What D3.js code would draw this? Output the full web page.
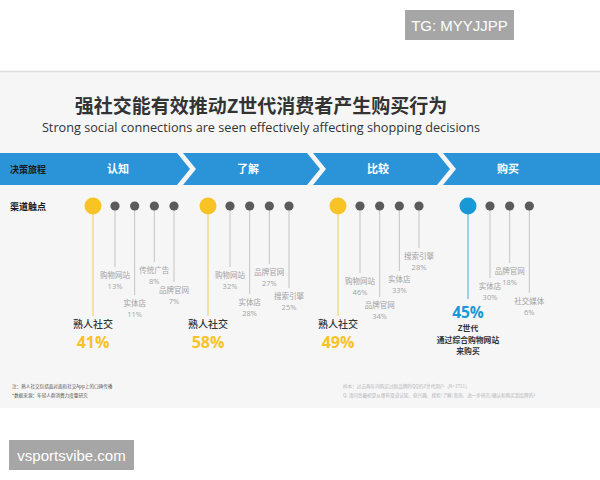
<!DOCTYPE html>
<html><head><meta charset="utf-8">
<script src="https://cdn.jsdelivr.net/npm/d3@7"></script>
<style>
html,body{margin:0;padding:0;background:#fff;}
svg{display:block;}
</style></head>
<body>
<script>
// ---- data ----
const stages = ["认知", "了解", "比较", "购买"];
const leadLabels = ["熟人社交", "熟人社交", "熟人社交", "Z世代|通过综合购物网站|来购买"];
const leadValues = [41, 58, 49, 45];
const touchNames = [
  ["购物网站", "实体店", "传统广告", "品牌官网"],
  ["购物网站", "实体店", "品牌官网", "搜索引擎"],
  ["购物网站", "品牌官网", "实体店", "搜索引擎"],
  ["实体店", "品牌官网", "社交媒体"]
];
const touchValues = [
  [13, 11, 8, 7],
  [32, 28, 27, 25],
  [46, 34, 33, 28],
  [30, 18, 6]
];
const titleZh = "强社交能有效推动Z世代消费者产生购买行为";
const titleEn = "Strong social connections are seen effectively affecting shopping decisions";
const notesLeft = ["注：熟人社交包括面对面和社交App上的口碑传播", "*数据来源：年轻人群消费力度量研究"];
const notesRight = ["样本：过去两年内购买过新品牌的QQ的Z世代用户（N=1711）", "Q. 请问您最初是从哪些渠道认知、获兴趣、搜索/了解/咨询、进一步研究/确认和购买到品牌的?"];

// ---- layout (not data) ----
const labelRows = [
  [275, 303, 270, 290],
  [275, 302, 272, 296],
  [281, 305, 279, 256],
  [286, 271, 301]
];
const leadOffset = [40, 25, 25, 25];

const W = 600, H = 480;
const CJK = "'Noto Sans CJK SC','Noto Sans',sans-serif";
const svg = d3.select("body").append("svg").attr("width", W).attr("height", H);

// background panel
svg.append("rect").attr("x", 0).attr("y", 0).attr("width", W).attr("height", H).attr("fill", "#ffffff");
svg.append("rect").attr("x", 0).attr("y", 72).attr("width", W).attr("height", 336).attr("fill", "#f6f6f7");
svg.append("line").attr("x1", 0).attr("x2", W).attr("y1", 71.5).attr("y2", 71.5).attr("stroke", "#dedede").attr("stroke-width", 1.5);

// titles
svg.append("text").attr("x", 261).attr("y", 113).attr("text-anchor", "middle")
  .attr("font-family", CJK).attr("font-weight", 700).attr("font-size", 19).attr("fill", "#333")
  .text(titleZh);
svg.append("text").attr("x", 261).attr("y", 132).attr("text-anchor", "middle")
  .attr("font-family", "'Open Sans','Noto Sans',sans-serif").attr("font-size", 12.7).attr("fill", "#333")
  .text(titleEn);

// banner
const band = d3.scaleBand().domain(stages).range([53, 573]).padding(0);
const bTop = 153, bBot = 185, bMid = (bTop + bBot) / 2;
const gap = 6, depth = 13;
stages.forEach((s, i) => {
  const x0 = band(s), x1 = x0 + band.bandwidth();
  const left = i === 0 ? 0 : x0;
  const right = i === stages.length - 1 ? W : x1 - gap;
  const pts = [];
  pts.push([left, bTop]);
  pts.push([right, bTop]);
  if (i < stages.length - 1) pts.push([x1 - gap + depth, bMid]);
  pts.push([right, bBot]);
  pts.push([left, bBot]);
  if (i > 0) pts.push([x0 + depth, bMid]);
  svg.append("polygon").attr("points", pts.map(p => p.join(",")).join(" ")).attr("fill", "#2b94d8");
  svg.append("text").attr("x", x0 + band.bandwidth() / 2).attr("y", bMid + 4).attr("text-anchor", "middle")
    .attr("font-family", CJK).attr("font-weight", 700).attr("font-size", 11).attr("fill", "#fff").text(s);
});
svg.append("text").attr("x", 10).attr("y", bMid + 3.5).attr("font-family", CJK).attr("font-weight", 700)
  .attr("font-size", 9).attr("fill", "#1a1a1a").text("决策旅程");
svg.append("text").attr("x", 10).attr("y", 210).attr("font-family", CJK).attr("font-weight", 700)
  .attr("font-size", 9).attr("fill", "#1a1a1a").text("渠道触点");

// dots
const dotY = 206;
const yellow = "#f7c325", blue = "#1899d6";
stages.forEach((s, i) => {
  const ax = band(s) + leadOffset[i];
  const isBuy = i === stages.length - 1;
  const col = isBuy ? blue : yellow;
  const px = d3.scalePoint().domain(d3.range(4)).range([ax + 22, ax + 81]);
  // touchpoints
  touchNames[i].forEach((n, j) => {
    const x = px(j), ly = labelRows[i][j];
    svg.append("line").attr("x1", x).attr("x2", x).attr("y1", dotY).attr("y2", ly - 8)
      .attr("stroke", "#c4c4c4").attr("stroke-width", 1);
    svg.append("circle").attr("cx", x).attr("cy", dotY).attr("r", 4.6).attr("fill", "#5b5b5b");
    svg.append("text").attr("x", x).attr("y", ly + 2.5).attr("text-anchor", "middle")
      .attr("font-family", CJK).attr("font-size", 7.5).attr("fill", "#a3a3a3").text(n);
    svg.append("text").attr("x", x).attr("y", ly + 14).attr("text-anchor", "middle")
      .attr("font-family", "'Open Sans',sans-serif").attr("font-size", 7.5).attr("fill", "#a3a3a3")
      .text(touchValues[i][j] + "%");
  });
  // lead
  const lineEnd = isBuy ? 299 : 316;
  svg.append("line").attr("x1", ax).attr("x2", ax).attr("y1", dotY).attr("y2", lineEnd)
    .attr("stroke", col).attr("stroke-width", 1).attr("opacity", 0.8);
  svg.append("circle").attr("cx", ax).attr("cy", dotY).attr("r", 8.5).attr("fill", col);
  if (!isBuy) {
    svg.append("text").attr("x", ax).attr("y", 328).attr("text-anchor", "middle")
      .attr("font-family", CJK).attr("font-weight", 500).attr("font-size", 10).attr("fill", "#333").text(leadLabels[i]);
    svg.append("text").attr("x", ax).attr("y", 348).attr("text-anchor", "middle")
      .attr("font-family", "'Open Sans',sans-serif").attr("font-weight", 700).attr("font-size", 16).attr("fill", col)
      .text(leadValues[i] + "%");
  } else {
    svg.append("text").attr("x", ax).attr("y", 317.5).attr("text-anchor", "middle")
      .attr("font-family", "'Open Sans',sans-serif").attr("font-weight", 700).attr("font-size", 15.5).attr("fill", col)
      .text(leadValues[i] + "%");
    leadLabels[i].split("|").forEach((t, k) => {
      svg.append("text").attr("x", ax).attr("y", 331 + k * 11.5).attr("text-anchor", "middle")
        .attr("font-family", CJK).attr("font-weight", 700).attr("font-size", 7.8).attr("fill", "#333").text(t);
    });
  }
});

// footnotes
notesLeft.forEach((t, k) => {
  svg.append("text").attr("x", 12).attr("y", 388 + k * 8.5).attr("font-family", CJK)
    .attr("font-size", 4.6).attr("fill", "#555").text(t);
});
notesRight.forEach((t, k) => {
  svg.append("text").attr("x", 343).attr("y", 388 + k * 8.5).attr("font-family", CJK)
    .attr("font-size", 4.6).attr("fill", "#b5b5b5").text(t);
});

// watermarks
svg.append("rect").attr("x", 405).attr("y", 10).attr("width", 109).attr("height", 30).attr("fill", "#a6a6a6");
svg.append("text").attr("x", 459.5).attr("y", 30.5).attr("text-anchor", "middle")
  .attr("font-family", "'Liberation Sans',Arial,sans-serif").attr("font-size", 15).attr("fill", "#fff").text("TG: MYYJJPP");
svg.append("rect").attr("x", 9).attr("y", 440).attr("width", 125).attr("height", 30).attr("fill", "#a6a6a6");
svg.append("text").attr("x", 71.5).attr("y", 460.5).attr("text-anchor", "middle")
  .attr("font-family", "'Liberation Sans',Arial,sans-serif").attr("font-size", 15).attr("fill", "#fff").text("vsportsvibe.com");
</script>
</body></html>
